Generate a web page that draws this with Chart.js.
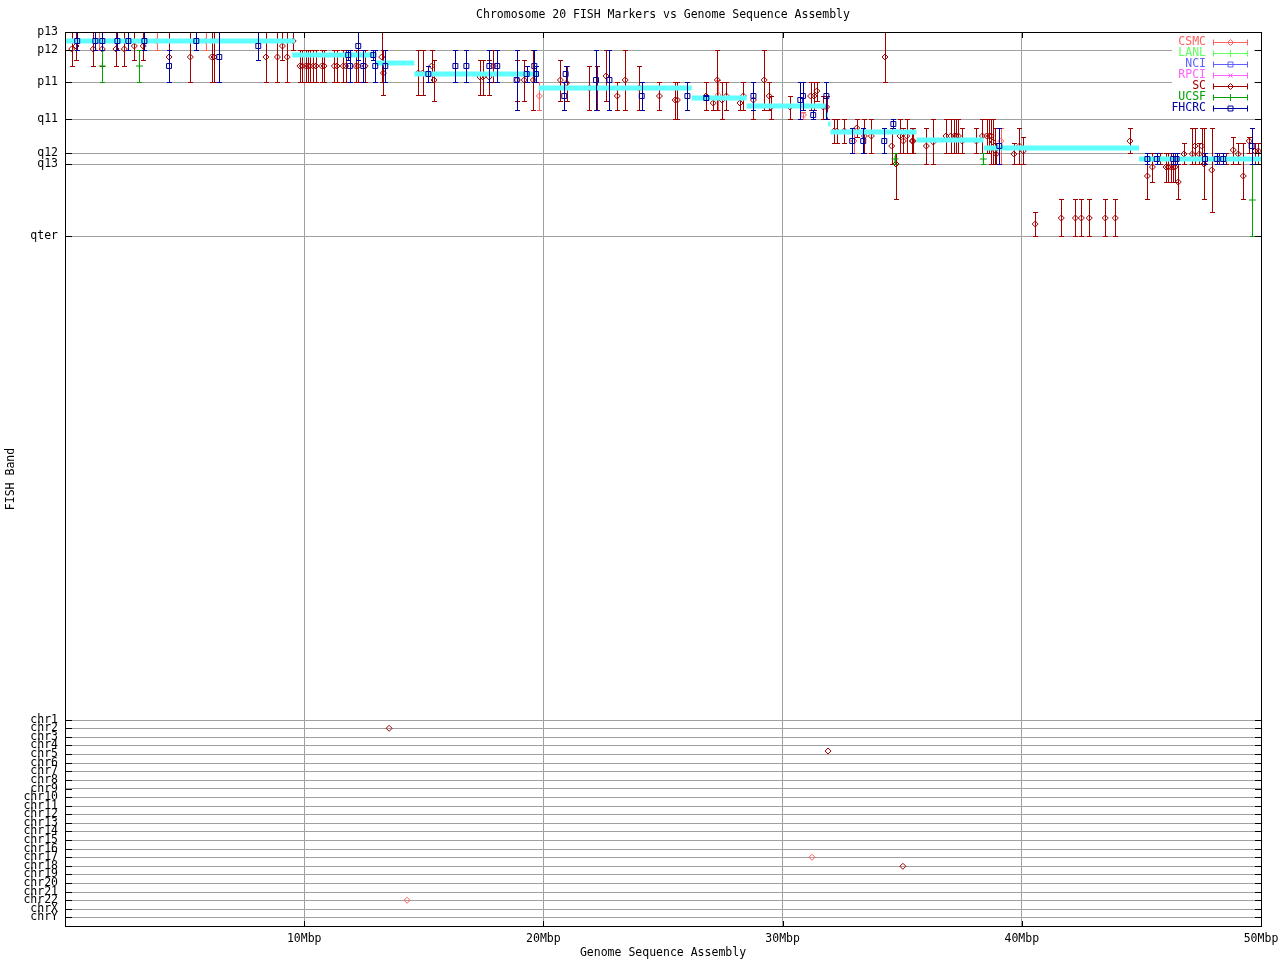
<!DOCTYPE html>
<html>
<head>
<meta charset="utf-8">
<title>Chromosome 20 FISH Markers vs Genome Sequence Assembly</title>
<script src="https://cdn.jsdelivr.net/npm/chart.js@4.4.1/dist/chart.umd.min.js"></script>
<style>
  html, body { margin: 0; padding: 0; background: #fff; }
  #wrap { width: 1280px; height: 960px; }
</style>
</head>
<body>
<div id="wrap"><canvas id="fishChart" width="1280" height="960"></canvas></div>
<script>
// y axis: band / chromosome positions (arbitrary band units, top = 0)
var bandLabels = ["p13", "p12", "p11", "q11", "q12", "q13", "qter"];
var bandPos = [0, 18, 50, 87, 121, 132, 204];
var chrLabels = ["chr1","chr2","chr3","chr4","chr5","chr6","chr7","chr8","chr9","chr10","chr11","chr12",
  "chr13","chr14","chr15","chr16","chr17","chr18","chr19","chr20","chr21","chr22","chrX","chrY"];
var chrPos = [688.3, 696.3, 705.3, 713.3, 722, 731.3, 739.3, 748.3, 756.7, 765.3, 774.3, 782.3,
  791.3, 799.3, 808.3, 817.3, 825.3, 834.3, 842.3, 851.3, 860.3, 868.3, 877.3, 885.3];
var yTickPos = bandPos.concat(chrPos);
var yTickLabels = bandLabels.concat(chrLabels);

// x axis (Mbp)
var xTickPos = [0, 10, 20, 30, 40, 50];
var xTickLabels = ["", "10Mbp", "20Mbp", "30Mbp", "40Mbp", "50Mbp"];

// marker rows: [Mbp, band, band low, band high]
var csmcBars = [
  [1.43,9,0,18],[3.83,9,0,18],[5.89,9,0,18],[19.83,64,50,78],[27.31,63,48,78],
  [30.87,83,80,87],[32.98,109,96,121],[39.12,109,96,132]
];
var csmcChr = [[14.30, 868.3], [31.23, 825.3]]; // mapped to other chromosomes
var lanlBars = [];
var nciBars = [];
var rpciBars = [];
var scBars = [
  [0.28,17,0,34],[0.46,14,0,28],[1.18,17,0,34],[1.56,17,0,34],[2.13,17,0,34],[2.48,17,0,34],
  [2.90,14,0,28],[3.27,14,0,28],[4.35,25,0,50],[5.24,25,0,50],[6.13,25,0,50],[6.23,25,0,50],
  [8.40,25,0,50],[8.88,25,0,50],[9.09,14,0,28],[9.29,25,0,50],[9.54,9,0,18],
  [9.82,34,18,50],[9.92,34,18,50],[10.06,34,18,50],[10.15,34,18,50],[10.23,34,18,50],[10.38,34,18,50],
  [10.49,34,18,50],[10.73,34,18,50],[10.83,34,18,50],[11.26,34,18,50],[11.37,34,18,50],[11.63,34,18,50],
  [11.73,34,18,50],[12.15,34,18,50],[12.24,34,18,50],[12.55,34,18,50],[13.24,25,0,50],[13.31,41,18,63],
  [14.77,41,18,63],[14.95,41,18,63],[15.33,34,18,50],[15.43,48,28,69],[17.35,45,28,63],[17.47,45,28,63],
  [17.73,45,28,63],[17.91,34,18,50],[18.91,48,28,69],[19.20,48,28,69],[19.58,48,18,78],
  [20.71,48,28,69],[20.97,51,34,69],[21.92,56,34,78],[22.25,56,34,78],[22.62,44,18,69],[23.09,64,50,78],
  [23.42,48,18,78],[24.01,56,34,78],[24.85,64,50,78],[25.51,68,50,87],[25.60,68,50,87],[26.80,64,50,78],
  [27.10,71,64,78],[27.27,48,18,78],[27.47,68,50,87],[27.65,64,50,78],[28.22,71,64,78],[28.36,64,50,78],
  [28.78,68,50,87],[29.23,48,18,78],[29.44,64,50,78],[29.52,75,64,87],[30.31,75,64,87],[31.17,64,50,78],
  [31.31,64,50,78],[31.43,59,50,69],[31.70,75,64,87],[31.84,75,64,87],
  [32.15,99,87,111],[32.26,99,87,111],[32.58,99,87,111],[33.10,96,87,105],[33.42,104,87,121],[33.71,104,87,121],
  [34.28,25,0,50],[34.56,114,96,132],[34.74,132,121,167],[34.91,104,87,121],[35.05,109,96,121],[35.19,104,87,121],
  [35.42,109,96,121],[35.46,109,96,121],[36.01,114,96,132],[36.30,110,87,132],[36.83,104,87,121],[37.03,104,87,121],
  [37.18,104,87,121],[37.25,104,87,121],[37.35,104,87,121],[37.51,109,96,121],[38.10,109,96,121],[38.35,104,87,121],
  [38.53,104,87,121],[38.64,104,87,121],[38.72,104,87,132],[38.80,110,87,132],[38.87,118,96,132],[38.93,122,111,132],
  [39.67,122,111,132],[39.90,114,96,132],[40.06,119,105,132],
  [40.56,192,180,204],[41.65,186,167,204],[42.24,186,167,204],[42.49,186,167,204],[42.82,186,167,204],
  [43.49,186,167,204],[43.91,186,167,204],[44.52,109,96,121],
  [45.25,144,121,167],[45.46,135,121,150],[45.78,127,121,132],[46.03,135,121,150],[46.12,135,121,150],
  [46.22,135,121,150],[46.31,135,121,150],[46.40,135,121,150],[46.54,150,132,167],[46.78,122,111,132],
  [47.13,122,96,132],[47.24,114,96,132],[47.42,122,111,132],[47.52,114,96,132],[47.62,132,96,167],
  [47.94,138,96,180],[48.15,127,121,132],[48.26,127,121,132],[48.42,127,121,132],[48.52,127,121,132],
  [48.84,118,105,132],[49.05,122,111,132],[49.26,144,111,167],[49.51,109,105,121],[49.75,119,111,132],[49.89,119,111,132]
];
var scChr = [[13.55, 696.3], [31.90, 719], [35.03, 834.3]];
var ucsfBars = [
  [1.56,34,18,50],[3.11,34,18,50],[34.70,127,121,132],[38.39,127,121,132],[49.64,168,132,204]
];
var fhcrcBars = [
  [0.51,9,0,18],[1.27,9,0,18],[1.56,9,0,18],[2.19,9,0,18],[2.65,9,0,18],[3.32,9,0,18],
  [4.35,34,18,50],[5.49,9,0,18],[6.45,25,0,50],[8.08,14,0,28],[11.84,23,18,28],[11.91,34,18,50],
  [12.26,14,0,28],[12.47,34,18,50],[12.89,23,18,28],[12.97,34,18,50],[13.39,34,18,50],[15.19,42,34,50],
  [16.32,34,18,50],[16.78,34,18,50],[17.74,34,18,50],[18.07,34,18,50],[18.88,48,18,78],[19.30,42,34,50],
  [19.62,34,18,50],[19.69,42,34,50],[20.87,64,50,78],[20.93,42,34,50],[22.20,48,18,78],[22.76,48,18,78],
  [24.11,64,50,78],[26.02,64,50,78],[26.81,66,64,68],[28.78,64,50,78],[30.74,68,50,87],[30.85,64,50,78],
  [31.28,83,78,87],[31.83,64,50,87],[32.91,109,96,121],[33.37,109,96,121],[34.25,109,96,121],[34.63,92,87,96],
  [39.06,114,96,132],[45.25,127,121,132],[45.64,127,121,132],[46.33,127,121,132],[46.47,127,121,132],
  [47.66,127,121,132],[48.15,127,121,132],[48.42,127,121,132],[49.61,114,96,132]
];

// sequence assembly band segments: [start Mbp, end Mbp, band]
var assemblySegs = [
  [0,9.6,9],[9.5,13.0,23],[13.0,14.6,31],[14.6,19.8,42],[19.8,26.2,56],[26.2,28.5,66],[28.5,31.8,74],
  [31.8,31.9,83],[31.9,32.0,92],[32.0,35.6,100],[35.6,38.4,108],[38.4,44.9,116],[44.9,50,127]
];

var FONT = "'DejaVu Sans Mono', monospace";
var TXT = 11.5;

function barPoints(rows, extra){
  var pts = rows.map(function(r){ return {x: r[0], y: r[1], lo: r[2], hi: r[3]}; });
  (extra || []).forEach(function(r){ pts.push({x: r[0], y: r[1], lo: null, hi: null}); });
  return pts;
}

function assemblyPoints(){
  var pts = [];
  assemblySegs.forEach(function(s){
    pts.push({x: s[0], y: s[2]}, {x: s[1], y: s[2]}, {x: s[1], y: null});
  });
  return pts;
}

function series(label, color, style, radius, data, order){
  return {
    label: label, data: data, order: order, errorBars: true,
    borderColor: color, backgroundColor: "rgba(0,0,0,0)",
    pointStyle: style, pointRadius: radius, pointBorderWidth: 1,
    pointBorderColor: color, pointBackgroundColor: "rgba(0,0,0,0)"
  };
}

// gnuplot style: error bars, border, inward ticks, key
var gnuplotLook = {
  id: "gnuplotLook",
  beforeDatasetDraw: function(chart, args){
    var ds = chart.data.datasets[args.index];
    if(!ds.errorBars) return;
    var ctx = chart.ctx, ys = chart.scales.y;
    ctx.save();
    ctx.strokeStyle = ds.borderColor;
    ctx.lineWidth = 1;
    ctx.beginPath();
    args.meta.data.forEach(function(el, i){
      var raw = ds.data[i];
      if(raw.lo == null) return;
      var px = Math.round(el.x) + 0.5;
      var y1 = Math.round(ys.getPixelForValue(raw.lo)) + 0.5;
      var y2 = Math.round(ys.getPixelForValue(raw.hi)) + 0.5;
      ctx.moveTo(px, y1); ctx.lineTo(px, y2);
      ctx.moveTo(px - 2.5, y1); ctx.lineTo(px + 2.5, y1);
      ctx.moveTo(px - 2.5, y2); ctx.lineTo(px + 2.5, y2);
    });
    ctx.stroke();
    ctx.restore();
  },
  afterDraw: function(chart){
    var ctx = chart.ctx, a = chart.chartArea, xs = chart.scales.x, ys = chart.scales.y;
    ctx.save();
    // key background
    ctx.fillStyle = "#fff";
    ctx.fillRect(a.right - 89, a.top + 3, 82, 81);
    // border
    ctx.strokeStyle = "#000";
    ctx.lineWidth = 1;
    ctx.strokeRect(a.left + 0.5, a.top + 0.5, a.right - a.left, a.bottom - a.top);
    ctx.beginPath();
    ys.ticks.forEach(function(t){
      var py = Math.round(ys.getPixelForValue(t.value)) + 0.5;
      ctx.moveTo(a.left, py); ctx.lineTo(a.left + 7, py);
      ctx.moveTo(a.right + 1, py); ctx.lineTo(a.right - 6, py);
    });
    xs.ticks.forEach(function(t){
      var px = Math.round(xs.getPixelForValue(t.value)) + 0.5;
      ctx.moveTo(px, a.top); ctx.lineTo(px, a.top + 6);
      ctx.moveTo(px, a.bottom + 1); ctx.lineTo(px, a.bottom - 5);
    });
    ctx.stroke();

    // key entries
    ctx.font = TXT + "px " + FONT;
    ctx.textAlign = "right";
    ctx.textBaseline = "middle";
    var keyDs = chart.data.datasets.filter(function(d){ return d.errorBars; });
    keyDs.forEach(function(d, i){
      var ky = Math.round(a.top + 10 + i * 11) + 0.5;
      var x1 = a.right - 48 + 0.5, x2 = a.right - 14 + 0.5, xm = a.right - 31 + 0.5;
      ctx.fillStyle = d.borderColor;
      ctx.fillText(d.label, a.right - 55, ky);
      ctx.strokeStyle = d.borderColor;
      ctx.beginPath();
      ctx.moveTo(x1, ky); ctx.lineTo(x2, ky);
      ctx.moveTo(x1, ky - 3); ctx.lineTo(x1, ky + 3);
      ctx.moveTo(x2, ky - 3); ctx.lineTo(x2, ky + 3);
      ctx.stroke();
      if(Chart.helpers && Chart.helpers.drawPoint){
        ctx.fillStyle = "rgba(0,0,0,0)";
        Chart.helpers.drawPoint(ctx, {pointStyle: d.pointStyle, rotation: 0, radius: d.pointRadius, borderWidth: 1}, xm, ky);
      }
    });
    ctx.restore();
  }
};

var fishChart = new Chart(document.getElementById("fishChart"), {
  type: "scatter",
  data: {
    datasets: [
      series("CSMC", "#ff6060", "rectRot", 3, barPoints(csmcBars, csmcChr), 7),
      series("LANL", "#60ff60", "cross", 3.5, barPoints(lanlBars), 6),
      series("NCI", "#6060ff", "rect", 3.5, barPoints(nciBars), 5),
      series("RPCI", "#ff60ff", "crossRot", 3, barPoints(rpciBars), 4),
      series("SC", "#a00000", "rectRot", 3, barPoints(scBars, scChr), 3),
      {
        label: "assembly", data: assemblyPoints(), order: 2, errorBars: false,
        showLine: true, spanGaps: false, pointRadius: 0,
        borderColor: "#60ffff", borderWidth: 5, borderCapStyle: "butt"
      },
      series("UCSF", "#00a000", "cross", 3.5, barPoints(ucsfBars), 1),
      series("FHCRC", "#0000a0", "rect", 3.5, barPoints(fhcrcBars), 0)
    ]
  },
  options: {
    responsive: false,
    animation: false,
    devicePixelRatio: 1,
    layout: { padding: { top: 0, right: 19, bottom: 0, left: 0 } },
    plugins: {
      legend: { display: false },
      tooltip: { enabled: false },
      title: {
        display: true,
        fullSize: false,
        text: "Chromosome 20 FISH Markers vs Genome Sequence Assembly",
        color: "#000",
        font: { family: FONT, size: TXT, weight: "normal", lineHeight: 1.2 },
        padding: { top: 8, bottom: 10.2 }
      }
    },
    scales: {
      x: {
        type: "linear", min: 0, max: 50,
        afterBuildTicks: function(s){ s.ticks = xTickPos.map(function(v){ return {value: v}; }); },
        afterFit: function(s){ s.height = 34; s.paddingLeft = 0; s.paddingRight = 0; },
        ticks: {
          autoSkip: false, maxRotation: 0, color: "#000", padding: 6,
          font: { family: FONT, size: TXT },
          callback: function(v, i){ return xTickLabels[i]; }
        },
        grid: { color: "#a0a0a0", drawTicks: false },
        border: { display: false },
        title: {
          display: true, text: "Genome Sequence Assembly", color: "#000",
          font: { family: FONT, size: TXT, lineHeight: 1.2 }, padding: { top: 0, bottom: 0 }
        }
      },
      y: {
        type: "linear", reverse: true, min: 0, max: 894,
        afterBuildTicks: function(s){ s.ticks = yTickPos.map(function(v){ return {value: v}; }); },
        afterFit: function(s){ s.width = 65; },
        ticks: {
          autoSkip: false, color: "#000", padding: 7,
          font: { family: FONT, size: TXT },
          callback: function(v, i){ return yTickLabels[i]; }
        },
        grid: { color: "#a0a0a0", drawTicks: false },
        border: { display: false },
        title: {
          display: true, text: "FISH Band", color: "#000",
          font: { family: FONT, size: TXT, lineHeight: 1.2 }, padding: { top: 4.1, bottom: 0 }
        }
      }
    }
  },
  plugins: [gnuplotLook]
});
</script>
</body>
</html>
